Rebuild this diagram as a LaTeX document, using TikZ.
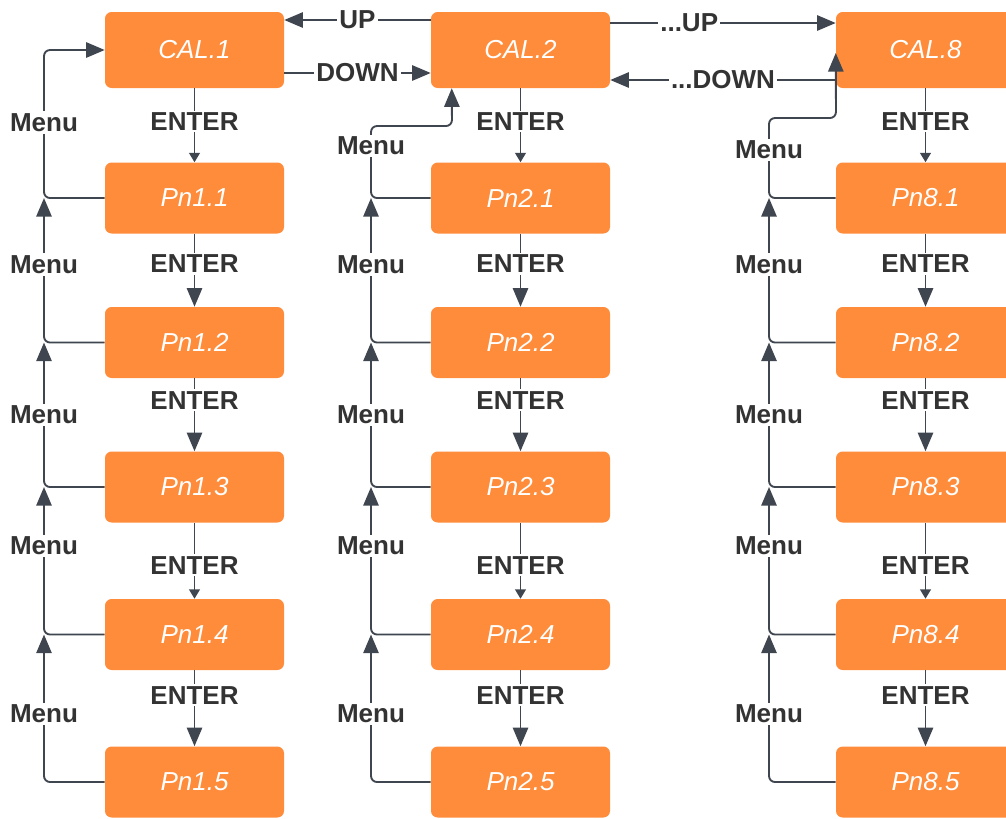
\documentclass[tikz,border=0pt]{standalone}
\usepackage{fontspec}
\setmainfont{Liberation Sans}
\usetikzlibrary{arrows.meta,calc}
\definecolor{boxorange}{HTML}{FF8C3A}
\definecolor{linegray}{HTML}{3F464F}
\definecolor{lbltext}{HTML}{333333}
\begin{document}
\begin{tikzpicture}[x=0.75pt,y=-0.75pt,
  box/.style={rectangle, rounded corners=5pt, fill=boxorange, minimum width=134.25pt,
    minimum height=53.25pt, inner sep=0pt, text=white,
    font=\itshape\fontsize{19.5}{22}\selectfont},
  calbox/.style={box, minimum height=57pt},
  conn/.style={draw=linegray, line width=1.4pt, rounded corners=4.5pt},
  bigtip/.style={-{Triangle[length=14pt,width=11.5pt]}},
  smalltip/.style={-{Triangle[length=7pt,width=8pt]}},
  lbl/.style={fill=white, inner sep=1.5pt, text=lbltext, rounded corners=0pt,
    font=\bfseries\fontsize{19.5}{22}\selectfont},
]
\useasboundingbox (0,0) rectangle (1006,818);

% boxes
\foreach \c/\cx/\n in {1/194.5/1, 2/520.5/2, 3/925.5/8} {
  \node[calbox] (cal\c) at (\cx,50) {CAL.\n};
  \foreach \r/\ry in {1/198,2/342.5,3/487,4/634.5,5/782}
    \node[box] (p\c\r) at (\cx,\ry) {Pn\n.\r};
}

% menu line x positions
\coordinate (m1) at (44,0);
\coordinate (m2) at (371,0);
\coordinate (m3) at (769,0);

% ENTER connectors
\foreach \c in {1,2,3} {
  \draw[conn,smalltip] (cal\c.south) -- node[lbl,pos=0.45]{ENTER} (p\c1.north);
  \draw[conn,bigtip] (p\c1.south) -- node[lbl,pos=0.41]{ENTER} (p\c2.north);
  \draw[conn,bigtip] (p\c2.south) -- node[lbl,pos=0.30]{ENTER} (p\c3.north);
  \draw[conn,smalltip] (p\c3.south) -- node[lbl,pos=0.56]{ENTER} (p\c4.north);
  \draw[conn,bigtip] (p\c4.south) -- node[lbl,pos=0.33]{ENTER} (p\c5.north);
}

% Menu connectors between Pn boxes
\foreach \c in {1,2,3} {
  \draw[conn,bigtip] (p\c2.west) -| node[lbl,pos=0.77]{Menu} (p\c1.west -| m\c);
  \draw[conn,bigtip] (p\c3.west) -| node[lbl,pos=0.75]{Menu} (p\c2.west -| m\c);
  \draw[conn,bigtip] (p\c4.west) -| node[lbl,pos=0.80]{Menu} (p\c3.west -| m\c);
  \draw[conn,bigtip] (p\c5.west) -| node[lbl,pos=0.73]{Menu} (p\c4.west -| m\c);
}

% Menu connectors to CAL boxes
\draw[conn,bigtip] (p11.west) -- (p11.west -| m1) -- node[lbl,pos=0.51]{Menu}
  (cal1.west -| m1) -- (cal1.west);
\draw[conn,bigtip] (p21.west) -- (p21.west -| m2) -- node[lbl,pos=0.72]{Menu}
  (371,126) -- (452,126) -- ($(cal2.south west)+(21,0)$);
\draw[conn,bigtip] (p31.west) -- (p31.west -| m3) -- node[lbl,pos=0.6]{Menu}
  (769,118) -- (836,118) -- ($(cal3.west)+(0,3)$);

% UP / DOWN connectors
\draw[conn,bigtip] ($(cal2.west)+(0,-30)$) -- node[lbl,pos=0.5]{UP} ($(cal1.east)+(0,-30)$);
\draw[conn,bigtip] ($(cal1.east)+(0,23)$) -- node[lbl,pos=0.5]{DOWN} ($(cal2.west)+(0,23)$);
\draw[conn,bigtip] ($(cal2.east)+(0,-27)$) -- node[lbl,pos=0.35]{...UP} ($(cal3.west)+(0,-27)$);
\draw[conn,bigtip] ($(cal3.west)+(0,30)$) -- node[lbl,pos=0.5]{...DOWN} ($(cal2.east)+(0,30)$);
\end{tikzpicture}
\end{document}
